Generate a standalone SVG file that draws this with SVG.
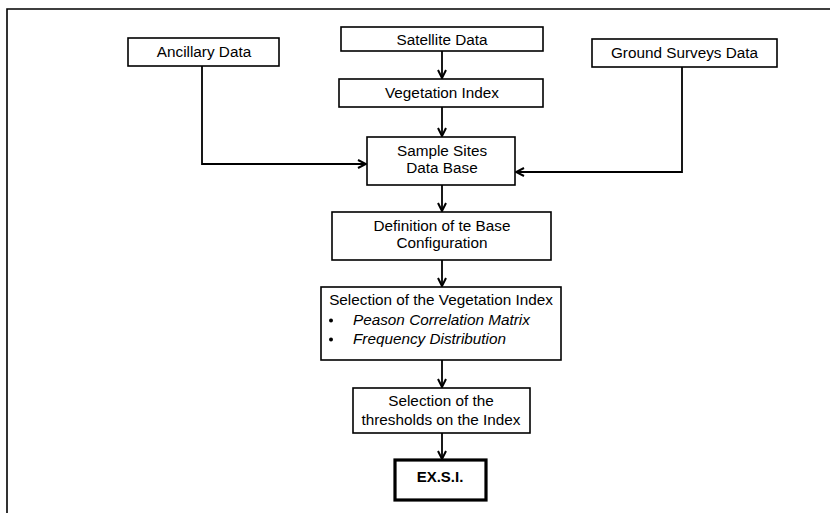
<svg xmlns="http://www.w3.org/2000/svg" width="830" height="513" viewBox="0 0 830 513">
<defs>
<marker id="arr" viewBox="0 0 10 10" refX="9" refY="5" markerWidth="10" markerHeight="10" markerUnits="userSpaceOnUse" orient="auto">
<path d="M1,1 L9,5 L1,9" fill="none" stroke="#000" stroke-width="2"/>
</marker>
<style>
.box{fill:#fff;stroke:#000;stroke-width:1.6}
.bold{fill:#fff;stroke:#000;stroke-width:3.2}
.t{font-family:"Liberation Sans",Arial,sans-serif;font-size:15.3px;fill:#000;text-anchor:middle}
.i{font-family:"Liberation Sans",Arial,sans-serif;font-size:15.3px;font-style:italic;fill:#000}
.b{font-family:"Liberation Sans",Arial,sans-serif;font-size:15px;font-weight:bold;fill:#000;text-anchor:middle}
.c{fill:none;stroke:#000;stroke-width:1.8;marker-end:url(#arr)}
</style>
</defs>
<rect width="830" height="513" fill="#fff"/>
<path d="M7,513 V9 H830" fill="none" stroke="#000" stroke-width="1.6"/>
<g id="connectors">
<path class="c" d="M442,51 V78"/>
<path class="c" d="M442,107 V136"/>
<path class="c" d="M202,66 V164 H366"/>
<path class="c" d="M682,67 V172 H516"/>
<path class="c" d="M442,185 V211"/>
<path class="c" d="M442,260 V286"/>
<path class="c" d="M442,360 V387"/>
<path class="c" d="M442,433 V459"/>
</g>
<g id="ancillary"><rect class="box" x="128" y="38" width="151" height="28"/><text class="t" x="204" y="57">Ancillary Data</text></g>
<g id="satellite"><rect class="box" x="341" y="27" width="202" height="24"/><text class="t" x="442" y="45">Satellite Data</text></g>
<g id="ground"><rect class="box" x="592" y="39" width="185" height="28"/><text class="t" x="684.5" y="58">Ground Surveys Data</text></g>
<g id="vegetation"><rect class="box" x="339" y="79" width="204" height="28"/><text class="t" x="442" y="98">Vegetation Index</text></g>
<g id="sample"><rect class="box" x="367" y="137" width="148" height="48"/><text class="t" x="442" y="156">Sample Sites</text><text class="t" x="442" y="173">Data Base</text></g>
<g id="definition"><rect class="box" x="332" y="212" width="219" height="48"/><text class="t" x="442" y="231">Definition of te Base</text><text class="t" x="442" y="248">Configuration</text></g>
<g id="selection"><rect class="box" x="321" y="287" width="240" height="73"/><text class="t" x="441" y="305">Selection of the Vegetation Index</text><circle cx="331" cy="320.5" r="2"/><text class="i" x="353" y="325">Peason Correlation Matrix</text><circle cx="331" cy="339.5" r="2"/><text class="i" x="353" y="344">Frequency Distribution</text></g>
<g id="thresholds"><rect class="box" x="353" y="388" width="177" height="45"/><text class="t" x="441" y="406">Selection of the</text><text class="t" x="441" y="425">thresholds on the Index</text></g>
<g id="exsi"><rect class="bold" x="395" y="460" width="91" height="40"/><text class="b" x="440" y="482">EX.S.I.</text></g>
</svg>
